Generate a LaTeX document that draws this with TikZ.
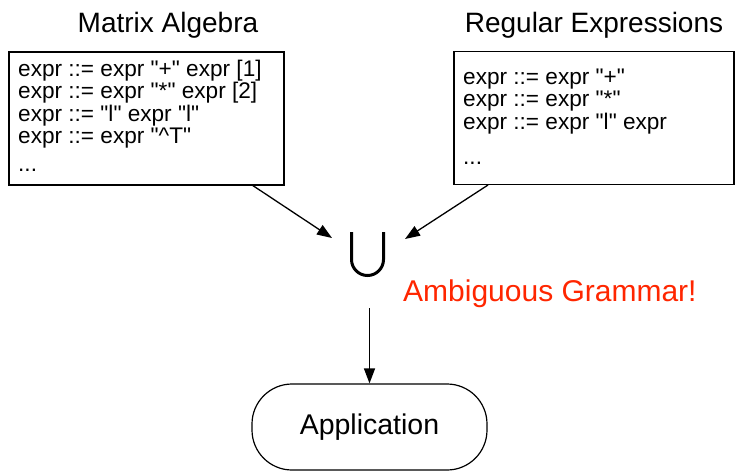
\documentclass[tikz,border=0pt]{standalone}
\usepackage{fontspec}
\setmainfont{Liberation Sans}[Ligatures=TeXOff]
\usetikzlibrary{arrows.meta}
\definecolor{applered}{RGB}{255,38,0}
\tikzset{
  title/.style={font=\fontsize{28}{30}\selectfont, inner sep=0pt, anchor=base},
  rule/.style={font=\fontsize{22.6}{24}\selectfont, inner sep=0pt, anchor=base west},
  gbox/.style={draw, line width=1.3pt, inner sep=0pt},
  conn/.style={line width=1.3pt, -{Triangle[length=15pt,width=11pt]}},
  warn/.style={font=\fontsize{30}{32}\selectfont, text=applered, inner sep=0pt, anchor=base west},
  appbox/.style={draw, line width=1.2pt, rounded corners=40pt, minimum width=235pt, minimum height=86pt, font=\fontsize{28.5}{30}\selectfont, inner sep=0pt},
  cupshape/.style={line width=3pt}
}
\begin{document}
\begin{tikzpicture}[x=1pt,y=-1pt]
\useasboundingbox (0,0) rectangle (735,472);
% titles
\node[title] (t1) at (168,32) {Matrix Algebra};
\node[title] (t2) at (594,32) {Regular Expressions};
% boxes
\node[gbox, minimum width=275pt, minimum height=133pt] (box1) at (146.5,118.5) {};
\node[gbox, minimum width=280pt, minimum height=133pt] (box2) at (594,118) {};
% left rules
\node[rule] (l1) at (18,76) {expr ::= expr "+" expr [1]};
\node[rule] (l2) at (18,98.5) {expr ::= expr "*" expr [2]};
\node[rule] (l3) at (18,121) {expr ::= "l" expr "l"};
\node[rule] (l4) at (18,143.5) {expr ::= expr "\^{}T"};
\node[rule] (l5) at (18,171) {...};
% right rules
\node[rule] (r1) at (463,84) {expr ::= expr "+"};
\node[rule] (r2) at (463,106.5) {expr ::= expr "*"};
\node[rule] (r3) at (463,129) {expr ::= expr "l" expr};
\node[rule] (r4) at (463,164) {...};
% union
\node[minimum width=36pt, minimum height=46pt, inner sep=0pt] (cup) at (367.5,254.5) {};
\draw[cupshape] (351.5,232) -- (351.5,259.5) arc[start angle=180, end angle=0, radius=16] -- (383.5,232);
% connectors
\coordinate (a1s) at (252,185);
\coordinate (a1e) at (332,238);
\coordinate (a2s) at (488,185);
\coordinate (a2e) at (405,239);
\coordinate (a3s) at (369.5,308);
\draw[conn] (a1s) -- (a1e);
\draw[conn] (a2s) -- (a2e);
% warning
\node[warn] (amb) at (403,301) {Ambiguous Grammar!};
% application
\node[appbox] (app) at (369.5,427) {Application};
\draw[conn] (a3s) -- (app.north);
\end{tikzpicture}
\end{document}
